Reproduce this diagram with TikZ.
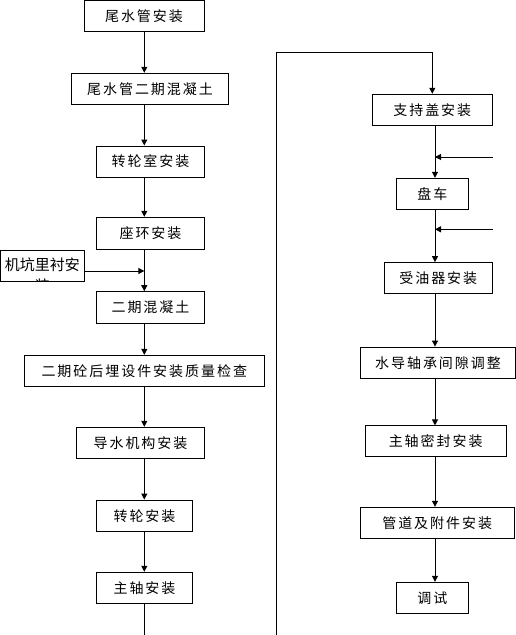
\documentclass[tikz,border=0pt]{standalone}
\usepackage{fontspec}
\usetikzlibrary{arrows.meta}
\newfontfamily\cjk[LetterSpace=14]{Noto Sans CJK SC}
\newfontfamily\cjkb{Noto Sans CJK SC}
\begin{document}
\begin{tikzpicture}[x=1pt,y=-1pt,
  box/.style={draw, line width=1pt, inner sep=0pt, font=\cjk\fontsize{14}{14}\selectfont},
  arr/.style={line width=1pt, -{Triangle[length=6pt,width=6pt]}},
  ln/.style={line width=1pt}]
\useasboundingbox (0,0) rectangle (516,635);
% left column
\node[box, minimum width=120pt, minimum height=31pt] (b1) at (144,16) {尾水管安装};
\node[box, minimum width=157pt, minimum height=31pt] (b2) at (150,88.8) {尾水管二期混凝土};
\node[box, minimum width=107.6pt, minimum height=31pt] (b3) at (150.5,161.5) {转轮室安装};
\node[box, minimum width=107.6pt, minimum height=32pt] (b4) at (150.5,233.3) {座环安装};
\node[box, minimum width=83.8pt, minimum height=30.6pt] (lin) at (42.4,266) {};
\node[box, minimum width=107.6pt, minimum height=31.6pt] (b5) at (150.5,307.5) {二期混凝土};
\node[box, minimum width=240pt, minimum height=30.7pt] (b6) at (144.3,370.7) {二期砼后埋设件安装质量检查};
\node[box, minimum width=127.6pt, minimum height=31pt] (b7) at (140.5,442.8) {导水机构安装};
\node[box, minimum width=95.6pt, minimum height=31.3pt] (b8) at (144.5,515.7) {转轮安装};
\node[box, minimum width=95.6pt, minimum height=31pt] (b9) at (144.5,587.8) {主轴安装};
% lining box text (second line clipped by the box)
\begin{scope}
  \clip (lin.south west) rectangle (lin.north east);
  \node[inner sep=0pt, font=\cjkb\fontsize{15}{15}\selectfont] (lint) at (42.4,265) {机坑里衬安};
  \node[inner sep=0pt, font=\cjkb\fontsize{15}{15}\selectfont] (lint2) at (42.4,286) {装};
\end{scope}
% right column
\node[box, minimum width=120pt, minimum height=31pt] (r1) at (432.3,109.8) {支持盖安装};
\node[box, minimum width=72pt, minimum height=31pt] (r2) at (432.3,193.8) {盘车};
\node[box, minimum width=108pt, minimum height=31.3pt] (r3) at (438.3,278.3) {受油器安装};
\node[box, minimum width=155.4pt, minimum height=31.3pt] (r4) at (438,362.7) {水导轴承间隙调整};
\node[box, minimum width=140.7pt, minimum height=30.7pt] (r5) at (435.7,441.3) {主轴密封安装};
\node[box, minimum width=153.7pt, minimum height=31pt] (r6) at (437.2,522.8) {管道及附件安装};
\node[box, minimum width=72pt, minimum height=31pt] (r7) at (432.3,597.8) {调试};
% helper coordinates
\coordinate (L) at (144.3,0);
\coordinate (R) at (435,0);
\coordinate (lend) at (144.3,635);
\coordinate (j) at (144.3,271);
\coordinate (lb) at (276.3,635);
\coordinate (lt) at (276.3,52.7);
\coordinate (s1) at (493,157);
\coordinate (s2) at (493,229.3);
% left connectors
\draw[arr] (b1.south -| L) -- (b2.north -| L);
\draw[arr] (b2.south -| L) -- (b3.north -| L);
\draw[arr] (b3.south -| L) -- (b4.north -| L);
\draw[arr] (b4.south -| L) -- (b5.north -| L);
\draw[arr] (b5.south -| L) -- (b6.north -| L);
\draw[arr] (b6.south -| L) -- (b7.north -| L);
\draw[arr] (b7.south -| L) -- (b8.north -| L);
\draw[arr] (b8.south -| L) -- (b9.north -| L);
\draw[ln] (b9.south -| L) -- (lend);
\draw[arr] (lin.east |- j) -- (j);
% right connectors
\draw[arr] (lb) -- (lt) -| (r1.north);
\draw[arr] (r1.south -| R) -- (r2.north -| R);
\draw[arr] (r2.south -| R) -- (r3.north -| R);
\draw[arr] (r3.south -| R) -- (r4.north -| R);
\draw[arr] (r4.south -| R) -- (r5.north -| R);
\draw[arr] (r5.south -| R) -- (r6.north -| R);
\draw[arr] (r6.south -| R) -- (r7.north -| R);
\draw[arr] (s1) -- (s1 -| R);
\draw[arr] (s2) -- (s2 -| R);
\end{tikzpicture}
\end{document}
